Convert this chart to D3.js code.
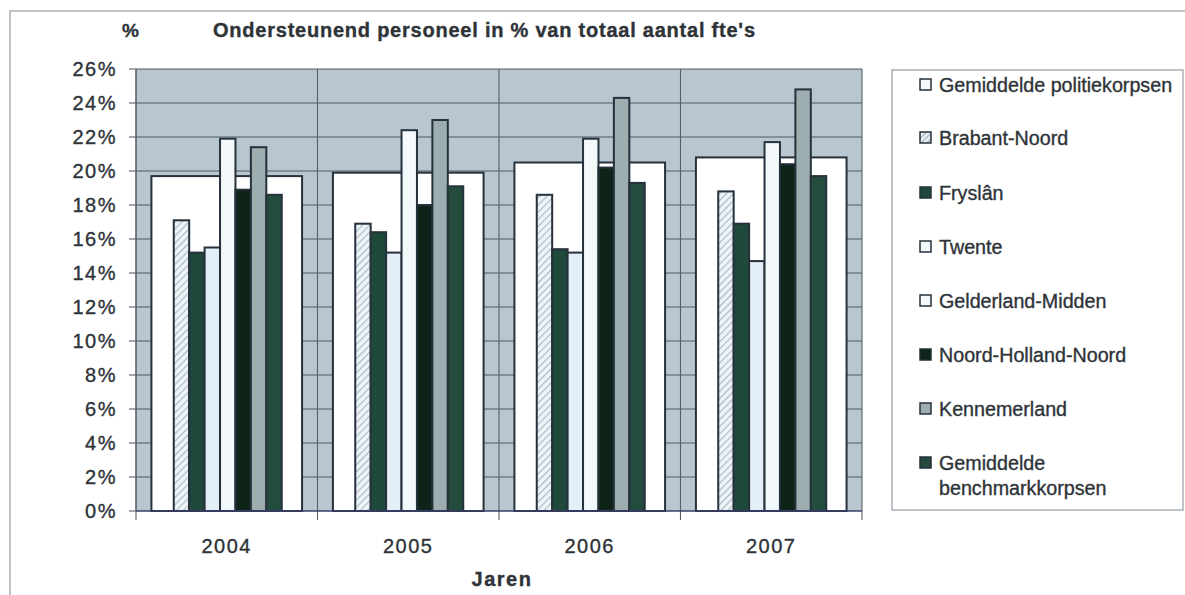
<!DOCTYPE html>
<html><head><meta charset="utf-8">
<script src="https://cdn.jsdelivr.net/npm/d3@7"></script>
<style>
html,body{margin:0;padding:0;background:#fff;}
svg text{font-family:"Liberation Sans",Arial,sans-serif;fill:#2e3338;stroke:#2e3338;stroke-width:0.35px;}
</style></head>
<body>
<svg id="c" width="1185" height="595"></svg>
<script>
const years = ["2004","2005","2006","2007"];
const seriesNames = ["Gemiddelde politiekorpsen","Brabant-Noord","Fryslân","Twente","Gelderland-Midden","Noord-Holland-Noord","Kennemerland","Gemiddelde benchmarkkorpsen"];
const gemiddeldePolitie = [19.7, 19.9, 20.5, 20.8];
const brabantNoord      = [17.1, 16.9, 18.6, 18.8];
const fryslan           = [15.2, 16.4, 15.4, 16.9];
const twente            = [15.5, 15.2, 15.2, 14.7];
const gelderlandMidden  = [21.9, 22.4, 21.9, 21.7];
const noordHollandNoord = [18.9, 18.0, 20.2, 20.4];
const kennemerland      = [21.4, 23.0, 24.3, 24.8];
const gemBenchmark      = [18.6, 19.1, 19.3, 19.7];
const yTicks = [0,2,4,6,8,10,12,14,16,18,20,22,24,26];

const narrowSeries = [brabantNoord, fryslan, twente, gelderlandMidden, noordHollandNoord, kennemerland, gemBenchmark];
const fills = ["url(#hatch)","#1f4a3b","#e4eef6","#f3f8fb","#0e2419","#9caeb0","#244c3d"];
const legendFills = ["#f6f8fa","url(#hatchS)","#1f4a3b","#f3f8fb","#f3f8fb","#0e2419","#9caeb0","#244c3d"];

const svg = d3.select("#c");
const defs = svg.append("defs");
const pat = defs.append("pattern").attr("id","hatch").attr("patternUnits","userSpaceOnUse")
  .attr("width",5).attr("height",5).attr("patternTransform","rotate(45)");
pat.append("rect").attr("width",5).attr("height",5).attr("fill","#eef3f6");
pat.append("line").attr("x1",0).attr("y1",0).attr("x2",0).attr("y2",5).attr("stroke","#a7b8c6").attr("stroke-width",2.2);
const pat2 = defs.append("pattern").attr("id","hatchS").attr("patternUnits","userSpaceOnUse")
  .attr("width",4).attr("height",4).attr("patternTransform","rotate(45)");
pat2.append("rect").attr("width",4).attr("height",4).attr("fill","#e8eef2");
pat2.append("line").attr("x1",0).attr("y1",0).attr("x2",0).attr("y2",4).attr("stroke","#8a9cab").attr("stroke-width",1.6);

// outer frame
svg.append("path").attr("d","M10,595 V11 H1185").attr("fill","none").attr("stroke","#b0b0b0").attr("stroke-width",1.5);

const L=136, R=862, T=69, B=511;
const x = d3.scaleBand().domain(years).range([L,R]).paddingInner(0).paddingOuter(0);
const y = d3.scaleLinear().domain([0,26]).range([B,T]);

svg.append("rect").attr("x",L).attr("y",T).attr("width",R-L).attr("height",B-T).attr("fill","#b8c6d0");

// horizontal gridlines
svg.append("g").selectAll("line").data(yTicks.filter(d=>d>0)).join("line")
  .attr("x1",L).attr("x2",R).attr("y1",d=>y(d)).attr("y2",d=>y(d))
  .attr("stroke","#4f5a64").attr("stroke-width",1.1);
// vertical gridlines at category boundaries
const bounds = years.map(d=>x(d)).concat([x(years[years.length-1])+x.bandwidth()]);
svg.append("g").selectAll("line").data(bounds).join("line")
  .attr("x1",d=>d).attr("x2",d=>d).attr("y1",T).attr("y2",B+9)
  .attr("stroke","#56606a").attr("stroke-width",1.1);

// wide bars
const wideW = x.bandwidth()*0.83;
svg.append("g").selectAll("rect").data(years).join("rect")
  .attr("x",(d)=>x(d)+(x.bandwidth()-wideW)/2)
  .attr("y",(d,i)=>y(gemiddeldePolitie[i]))
  .attr("width",wideW)
  .attr("height",(d,i)=>B-y(gemiddeldePolitie[i]))
  .attr("fill","#ffffff").attr("stroke","#26313c").attr("stroke-width",2);

// narrow bars
const innerW = x.bandwidth()*0.595;
const xi = d3.scaleBand().domain(d3.range(narrowSeries.length)).range([0,innerW]);
narrowSeries.forEach((arr,s)=>{
  svg.append("g").selectAll("rect").data(years).join("rect")
    .attr("x",d=>x(d)+(x.bandwidth()-innerW)/2+1+xi(s))
    .attr("y",(d,i)=>y(arr[i]))
    .attr("width",xi.bandwidth())
    .attr("height",(d,i)=>B-y(arr[i]))
    .attr("fill",fills[s]).attr("stroke","#26313c").attr("stroke-width",2);
});

// bottom axis line
svg.append("line").attr("x1",L).attr("x2",R).attr("y1",B).attr("y2",B).attr("stroke","#3a3f6a").attr("stroke-width",1.6);
// left axis
svg.append("line").attr("x1",L).attr("x2",L).attr("y1",T).attr("y2",B).attr("stroke","#56606a").attr("stroke-width",1.1);
svg.append("g").selectAll("line").data(yTicks).join("line")
  .attr("x1",L-7).attr("x2",L).attr("y1",d=>y(d)).attr("y2",d=>y(d))
  .attr("stroke","#56606a").attr("stroke-width",1.1);

// y labels
svg.append("g").selectAll("text").data(yTicks).join("text")
  .attr("x",117).attr("y",d=>y(d)).attr("dy","0.36em").attr("text-anchor","end")
  .attr("font-size",20).attr("letter-spacing",1.5).text(d=>d+"%");
// x labels
svg.append("g").selectAll("text").data(years).join("text")
  .attr("x",d=>x(d)+x.bandwidth()/2).attr("y",553).attr("text-anchor","middle")
  .attr("font-size",20).attr("letter-spacing",1.5).text(d=>d);

// titles
svg.append("text").attr("x",122).attr("y",37).attr("font-size",19).attr("font-weight","bold").text("%");
svg.append("text").attr("x",213).attr("y",37).attr("font-size",20).attr("font-weight","bold")
  .attr("textLength",542).attr("lengthAdjust","spacing").text("Ondersteunend personeel in % van totaal aantal fte's");
svg.append("text").attr("x",502).attr("y",586).attr("text-anchor","middle").attr("font-size",20).attr("letter-spacing",1.5).attr("font-weight","bold").text("Jaren");

// legend
svg.append("rect").attr("x",892).attr("y",70).attr("width",291).attr("height",440)
  .attr("fill","#fff").attr("stroke","#8f9aa3").attr("stroke-width",1.2);
const rowY = [85,138,193,247,301,355,409,463];
seriesNames.forEach((n,i)=>{
  svg.append("rect").attr("x",920).attr("y",rowY[i]-6).attr("width",11).attr("height",11)
    .attr("fill",legendFills[i]).attr("stroke","#26313c").attr("stroke-width",1.5);
  if(i===7){
    svg.append("text").attr("x",939).attr("y",rowY[i]).attr("dy","0.36em").attr("font-size",19.7).text("Gemiddelde");
    svg.append("text").attr("x",939).attr("y",rowY[i]+25).attr("dy","0.36em").attr("font-size",19.7).text("benchmarkkorpsen");
  } else {
    svg.append("text").attr("x",939).attr("y",rowY[i]).attr("dy","0.36em").attr("font-size",19.7).text(n);
  }
});
</script>
</body></html>
